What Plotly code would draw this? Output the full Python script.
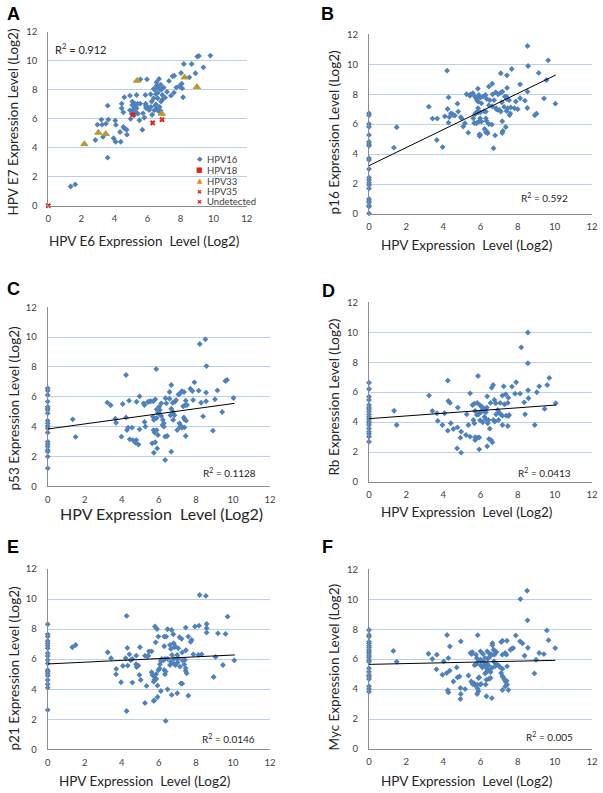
import plotly.graph_objects as go

W, H = 603, 793

# ---------------- DATA ----------------
# Panel A: HPV E6 (x) vs HPV E7 (y), by HPV type
A_hpv16 = [(1.35,1.33),(1.63,1.47),(3.59,3.32),(2.85,4.54),(3.31,4.75),(3.95,4.66),(4.07,4.42),(4.38,4.42),
    (4.76,4.91),(4.34,5.09),(4.74,5.25),(4.6,5.35),(4.54,5.44),(4.09,5.58),(2.97,5.6),(3.25,5.6),(3.49,5.67),
    (3.21,5.95),(3.63,5.95),(4.05,5.88),(4.98,6.0),(5.51,5.9),(5.81,6.08),(5.69,5.25),(3.59,6.91),(4.44,6.73),
    (4.54,6.45),(4.94,6.6),(5.12,6.6),(5.26,6.5),(5.04,6.35),(5.18,6.25),(5.42,6.36),(5.73,6.38),(5.91,6.75),
    (6.1,6.6),(6.41,6.59),(6.69,6.5),(6.28,6.28),(6.8,6.55),(4.6,7.49),(4.94,7.6),(4.44,7.05),(5.08,7.19),
    (5.24,7.05),(5.08,6.96),(5.2,6.82),(5.3,6.9),(5.34,6.73),(5.4,7.05),(5.56,7.05),(5.89,7.05),(6.01,6.82),
    (5.89,6.91),(6.25,7.19),(6.2,6.82),(6.47,6.91),(6.56,6.65),(6.73,6.82),(5.34,7.65),(5.87,7.65),(6.19,7.7),
    (6.51,7.72),(6.63,7.81),(6.37,7.42),(6.61,7.42),(6.9,7.65),(6.9,7.33),(7.06,7.47),(6.82,7.19),(6.51,7.0),
    (7.18,7.86),(7.42,7.6),(8.15,7.49),(7.6,7.81),(6.37,8.07),(6.45,8.02),(6.76,8.07),(6.84,8.02),(6.8,8.36),
    (6.55,8.29),(6.65,8.18),(6.98,8.16),(7.74,8.16),(8.1,8.11),(7.93,8.25),(8.07,8.43),(7.3,8.62),(6.55,8.53),
    (6.7,8.76),(5.97,8.73),(5.57,8.73),(7.52,8.94),(7.62,8.98),(8.03,9.17),(8.9,9.15),(8.53,8.87),(8.67,9.79),
    (8.2,9.79),(9.38,9.56),(9.01,10.3),(9.11,10.35),(9.8,10.37)]
A_hpv18 = [(5.12,6.3)]
A_hpv33 = [(5.37,8.64),(8.25,8.87),(8.99,8.2),(6.86,6.36),(3.03,5.05),(3.47,4.96),(2.18,4.26)]
A_hpv35 = [(6.31,5.72),(6.88,5.95)]
A_undetected = [(0.0,0.0)]

# Panels B-F: HPV expression level (x) vs gene expression level (y)
B_p16 = [(0,6.72),(0,6.59),(0,6.01),(0,5.83),(0,5.28),(0,4.83),(0,4.67),(0,4.56),(0,3.72),(0,3.61),(0,3.0),
    (0,2.43),(0,2.27),(0,2.09),(0,1.94),(0,1.71),(0,1.0),(0,0.87),(0,0.76),(0,0.56),(0,0.49),(0,0.04),
    (1.34,4.43),(1.49,5.79),(3.22,7.17),(3.42,6.37),(3.67,6.37),(3.65,4.94),(3.96,4.47),(4.2,9.57),
    (4.28,7.79),(4.23,7.01),(4.08,6.52),(4.32,6.48),(4.41,6.72),(4.48,6.66),(4.55,6.61),(4.62,6.57),(4.28,6.1),
    (4.76,7.37),(4.8,6.84),(4.94,6.46),(4.98,6.39),(5.07,5.84),(5.34,5.43),(5.16,6.06),(5.43,7.9),(5.25,8.0),
    (5.45,7.98),(5.59,8.06),(5.86,8.37),(5.7,7.84),(5.78,7.73),(5.8,7.62),(5.87,7.5),(5.99,7.77),(6.14,7.84),
    (6.27,7.95),(6.34,7.68),(5.91,7.95),(6.05,7.39),(5.87,7.06),(5.78,6.79),(5.73,6.7),(5.7,6.66),(5.89,6.77),
    (6.0,6.79),(6.2,6.86),(6.29,6.84),(5.61,6.39),(5.91,6.17),(5.98,6.39),(6.05,6.17),(6.29,6.39),(6.32,6.21),
    (6.22,5.68),(5.66,6.08),(5.78,6.06),(5.95,5.32),(5.95,5.21),(5.98,5.28),(6.29,5.46),(6.36,5.48),(6.45,6.01),
    (6.61,5.97),(6.79,5.25),(6.7,4.39),(6.63,7.19),(6.84,7.06),(6.91,6.95),(6.45,7.26),(6.5,7.6),(6.73,7.6),
    (6.63,8.7),(6.45,8.51),(6.65,7.99),(6.82,8.13),(6.95,7.99),(7.09,8.1),(7.18,8.17),(7.09,9.4),(7.42,9.26),
    (7.68,9.68),(7.43,8.42),(7.31,7.84),(7.4,7.84),(7.42,7.68),(7.54,7.6),(7.15,7.46),(6.84,7.02),(7.02,6.95),
    (7.09,6.84),(7.27,7.15),(7.47,7.06),(7.4,6.88),(7.17,6.19),(7.36,5.81),(7.17,5.41),(7.56,6.6),(7.6,6.71),
    (7.83,7.06),(7.9,7.51),(8.13,7.73),(8.13,8.66),(8.53,11.22),(8.56,9.88),(9.64,10.26),(9.13,9.42),(9.55,8.95),
    (9.42,7.72),(10.03,7.37),(8.92,6.59),(9.01,6.7),(8.53,8.17),(8.52,7.08),(8.39,7.57),(8.0,7.0),(7.63,7.12),
    (7.2,5.54),(6.38,5.39)]
C_p53 = [(0,6.57),(0,6.41),(0,6.12),(0,5.68),(0,5.34),(0,5.23),(0,5.12),(0,4.89),(0,4.4),(0,4.22),(0,4.04),
    (0,3.89),(0,3.6),(0,2.99),(0,2.82),(0,2.66),(0,2.44),(0,2.32),(0,1.99),(0,1.21),
    (1.35,4.49),(1.51,3.31),(3.22,5.61),(3.4,5.43),(3.65,4.53),(3.69,4.26),(4.05,5.52),(4.23,7.46),(4.39,5.74),
    (4.23,4.62),(4.34,3.93),(4.28,3.77),(4.55,3.93),(3.98,3.33),(4.43,3.15),(4.6,3.1),(4.78,3.1),(4.73,2.93),
    (4.96,3.82),(4.9,2.8),(4.8,5.67),(4.96,6.03),(5.23,4.31),(5.27,4.0),(5.68,4.67),(5.73,4.45),(5.88,4.58),
    (5.71,3.77),(5.88,3.77),(5.77,3.6),(5.95,3.44),(5.64,2.88),(5.8,2.95),(5.91,2.54),(5.73,2.25),(6.34,1.76),
    (6.34,3.33),(6.45,3.37),(6.67,2.32),(6.05,5.11),(5.95,4.93),(6.04,4.84),(6.13,4.71),(6.22,4.45),(6.27,4.22),
    (6.27,4.0),(6.2,4.11),(6.02,5.34),(5.88,5.16),(6.63,4.76),(6.77,4.98),(6.84,4.76),(6.77,4.45),(7.11,4.22),
    (7.2,4.04),(7.24,3.93),(7.13,3.97),(7.38,3.95),(7.47,4.4),(7.35,4.62),(7.38,4.49),(6.99,3.77),(7.45,3.37),
    (5.81,5.83),(5.7,5.7),(5.56,5.7),(5.47,5.68),(5.41,5.65),(5.18,5.56),(5.22,5.45),(6.13,5.56),(6.36,5.9),
    (6.4,5.56),(6.58,5.87),(6.67,5.2),(6.75,5.6),(6.86,5.67),(6.93,5.78),(7.31,5.36),(7.42,5.43),(7.52,5.45),
    (7.45,5.74),(7.85,5.78),(8.28,5.6),(8.55,5.7),(8.39,4.69),(8.92,3.73),(9.42,4.98),(10.03,5.92),(9.03,5.83),
    (9.16,6.43),(8.55,6.28),(8.15,6.41),(7.81,6.39),(7.7,6.54),(7.92,6.97),(7.24,6.37),(7.36,6.32),(7.06,6.16),
    (7.13,6.2),(6.58,6.32),(6.67,6.79),(5.86,7.86),(8.21,9.54),(8.51,9.85),(8.57,8.06),(9.68,7.13),(9.59,7.06)]
D_rb = [(0,6.63),(0,6.21),(0,5.7),(0,5.48),(0,5.14),(0,4.96),(0,4.88),(0,4.7),(0,4.52),(0,4.36),(0,4.21),
    (0,4.03),(0,3.96),(0,3.81),(0,3.58),(0,3.36),(0,3.21),(0,3.03),(0,2.69),
    (1.35,4.76),(1.49,3.81),(3.23,5.77),(3.41,4.74),(3.66,4.59),(4.06,4.59),(3.7,4.08),(4.27,5.41),(4.36,5.28),
    (4.78,4.97),(5.26,4.52),(5.44,5.92),(4.4,3.92),(3.95,3.81),(4.24,3.43),(4.54,3.54),(4.76,3.65),(4.96,3.36),
    (4.92,2.96),(5.22,3.14),(5.35,3.81),(5.44,3.03),(5.62,4.14),(5.67,3.92),(5.71,2.99),(5.82,2.96),(5.93,2.97),
    (5.71,2.8),(4.74,2.25),(4.96,1.96),(5.93,2.18),(6.36,2.38),(6.57,2.8),(6.64,2.65),(6.46,2.87),(6.5,3.56),
    (4.24,6.77),(5.87,7.08),(8.55,9.98),(8.19,8.99),(8.55,7.93),(5.71,4.74),(5.8,4.48),(5.89,4.52),(5.93,4.59),
    (6.02,4.65),(6.07,4.79),(6.16,4.74),(6.25,4.81),(6.29,4.65),(6.34,4.97),(5.67,5.23),(5.57,5.14),(5.82,5.28),
    (5.96,5.14),(6.07,5.03),(6.16,4.92),(5.98,4.12),(6.12,3.99),(6.21,4.34),(6.29,4.19),(6.39,3.92),(6.43,4.14),
    (6.36,5.72),(6.54,5.28),(6.75,5.48),(6.82,5.26),(6.93,4.81),(7.0,4.65),(6.84,4.52),(6.6,6.3),(6.68,6.48),
    (7.06,5.28),(7.29,5.19),(7.47,5.28),(7.18,5.77),(7.36,5.86),(7.25,6.39),(7.69,6.37),(7.92,6.66),(7.5,5.63),
    (7.86,5.9),(8.13,5.9),(8.35,5.32),(8.56,6.13),(8.58,5.59),(8.4,4.52),(8.92,3.81),(9.03,5.99),(9.16,6.39),
    (9.45,4.88),(9.59,6.48),(9.7,6.95),(10.05,5.26),(7.08,4.52),(7.18,4.43),(7.38,4.43),(7.5,4.41),(7.54,4.48),
    (6.97,4.14),(7.18,3.81),(7.47,3.74),(6.7,4.14),(6.77,4.03)]
E_p21 = [(0,8.32),(0,7.65),(0,7.5),(0,7.21),(0,7.05),(0,6.9),(0,6.72),(0,6.39),(0,6.21),(0,5.94),(0,5.72),
    (0,5.28),(0,5.17),(0,5.04),(0,4.9),(0,4.61),(0,4.33),(0,4.1),(0,2.62),
    (1.33,6.79),(1.51,6.94),(3.24,6.46),(3.42,6.06),(3.69,4.99),(3.7,5.35),(3.96,4.46),(4.26,8.88),(4.26,2.55),
    (8.2,10.27),(8.54,10.21),(9.71,8.83),(8.58,8.34),(8.58,8.06),(8.58,7.77),(7.95,8.17),(8.17,8.23),(7.45,8.1),
    (9.19,7.72),(9.6,7.68),(5.79,8.17),(5.9,8.01),(5.97,7.5),(6.47,7.99),(6.69,7.94),(6.29,7.5),(6.4,7.5),
    (6.78,7.66),(7.12,7.46),(7.23,7.35),(7.59,7.5),(7.77,7.28),(7.72,7.15),(6.8,7.06),(6.9,6.84),(7.05,6.72),
    (5.83,7.12),(6.29,6.86),(6.6,6.95),(6.65,6.68),(6.83,6.8),(7.46,6.59),(6.71,6.28),(6.99,6.28),(7.26,6.45),
    (4.98,6.79),(4.3,6.75),(4.41,6.32),(5.47,6.52),(5.61,6.52),(4.78,6.23),(5.25,6.23),(5.39,6.19),(5.43,6.23),
    (4.21,6.06),(4.48,5.93),(4.57,6.01),(4.06,5.55),(4.32,5.57),(4.77,5.66),(4.8,5.48),(4.89,5.57),(4.57,4.44),
    (4.95,4.95),(5.02,4.62),(5.34,4.22),(5.61,5.13),(5.65,4.95),(5.76,4.82),(5.85,5.0),(5.72,4.5),(5.75,4.62),
    (5.86,4.68),(5.97,5.26),(6.04,5.39),(6.11,5.88),(6.06,5.66),(6.15,6.01),(6.24,5.93),(6.33,6.01),(6.29,5.28),
    (6.33,4.99),(6.37,5.17),(5.93,4.24),(6.11,3.88),(6.47,3.99),(6.69,3.62),(5.72,3.22),(5.25,3.08),(5.75,3.26),
    (5.93,3.48),(6.37,1.89),(6.99,3.73),(7.19,4.39),(7.26,4.37),(7.59,3.57),(7.45,5.21),(7.5,5.06),(7.37,5.65),
    (7.45,5.39),(7.27,5.92),(7.41,5.95),(6.8,5.7),(6.9,5.61),(7.01,5.77),(7.14,5.5),(6.82,6.02),(6.98,6.02),
    (7.05,6.06),(6.47,6.02),(6.6,5.61),(6.65,5.83),(8.96,4.81),(9.46,5.61),(10.07,5.92),(9.06,6.15),(8.31,6.32),
    (7.86,6.32),(8.13,6.28)]
F_myc = [(0,7.95),(0,7.61),(0,7.5),(0,7.17),(0,7.06),(0,6.9),(0,6.77),(0,6.61),(0,6.5),(0,6.39),(0,6.23),
    (0,6.12),(0,5.94),(0,5.83),(0,5.39),(0,5.16),(0,4.94),(0,4.83),(0,4.67),(0,4.19),(0,4.01),(0,3.83),
    (1.31,6.55),(1.49,5.83),(8.51,10.57),(8.15,10.01),(8.53,8.59),(9.57,7.92),(9.66,7.27),(10.02,6.74),
    (9.16,6.41),(9.41,6.34),(8.99,5.96),(8.9,5.05),(8.37,6.23),(8.55,6.76),(8.13,7.19),(8.26,7.05),(7.9,7.58),
    (7.69,6.7),(7.76,6.74),(7.61,6.63),(7.42,7.23),(7.18,7.23),(7.11,7.14),(7.33,6.41),(7.4,6.3),(7.18,6.3),
    (6.64,7.07),(6.64,6.92),(6.71,6.63),(6.79,6.52),(6.86,6.47),(6.75,6.3),(6.47,6.39),(6.57,6.34),(6.54,6.21),
    (6.36,6.52),(6.39,6.03),(6.25,6.07),(6.18,5.8),(6.0,6.52),(6.14,6.34),(5.85,7.6),(5.76,6.3),(5.56,6.47),
    (5.46,6.41),(5.53,6.34),(5.8,6.07),(5.89,5.9),(6.0,5.96),(6.07,5.9),(4.94,7.19),(4.35,6.85),(4.2,7.61),
    (4.27,6.07),(4.02,5.85),(3.65,6.3),(3.41,6.01),(3.2,6.36),(3.63,5.32),(3.95,4.96),(4.18,5.07),(4.34,5.23),
    (4.72,5.45),(4.54,4.51),(4.76,4.78),(4.87,4.84),(4.92,4.07),(4.94,3.67),(5.17,4.0),(4.24,3.93),(4.27,3.78),
    (4.92,3.34),(5.35,4.91),(5.68,5.6),(5.78,5.67),(5.5,4.51),(5.58,4.34),(5.64,4.4),(5.71,4.25),(5.82,4.3),
    (5.98,4.3),(6.03,4.34),(5.89,4.74),(5.93,4.78),(5.85,4.02),(5.89,3.85),(5.82,3.67),(6.28,4.3),(6.32,4.62),
    (6.46,4.69),(6.54,4.74),(6.25,5.05),(6.34,5.18),(6.39,5.29),(6.46,5.23),(6.54,5.14),(6.61,5.41),(6.0,5.6),
    (6.1,5.45),(6.21,5.6),(6.36,5.67),(6.43,5.58),(6.29,5.45),(6.79,5.52),(6.97,5.58),(7.06,5.45),(7.18,5.36),
    (7.43,5.52),(6.72,5.85),(6.79,5.74),(6.86,5.63),(7.11,5.07),(7.22,4.78),(7.18,4.87),(7.29,4.62),(7.4,4.56),
    (7.36,4.47),(7.43,4.29),(7.33,4.18),(7.18,3.94),(7.5,3.94),(6.32,3.52),(6.61,3.4)]

# Linear trend lines (x start/end, y start/end) and R^2 labels
trend_x = {"B": [0, 10.05], "C": [0, 10.08], "D": [0, 10.06], "E": [0, 10.1], "F": [0, 10.02]}
trend_y = {"B": [3.23, 9.28], "C": [3.84, 5.56], "D": [4.23, 5.14], "E": [5.68, 6.28], "F": [5.65, 5.92]}
r2_text = {"A": "0.912", "B": "0.592", "C": "0.1128", "D": "0.0413", "E": "0.0146", "F": "0.005"}

y_titles = {"A": "HPV E7 Expression Level (Log2)", "B": "p16 Expression Level (Log2)",
            "C": "p53 Expression Level (Log2)", "D": "Rb Expression Level (Log2)",
            "E": "p21 Expression Level (Log2)", "F": "Myc Expression Level (Log2)"}
x_titles = {"A": "HPV E6 Expression\u00a0 Level (Log2)"}
for k in "BCDEF":
    x_titles[k] = "HPV Expression\u00a0 Level (Log2)"
legend_labels = ["HPV16", "HPV18", "HPV33", "HPV35", "Undetected"]

# ---------------- LAYOUT (window pixel positions) ----------------
FONT = "Lato"
BLUE = "#4F81BD"
RED = "#E2231A"
GRID = "#BCD0EA"
AXL = "#8C8C8C"

# panel: (axis suffix, x0, x1, ytop, ybottom)
geom = {
    "A": ("", 48.3, 246.7, 32.0, 205.7),
    "B": ("2", 369.0, 592.0, 34.3, 214.0),
    "C": ("3", 47.7, 270.0, 307.3, 486.3),
    "D": ("4", 369.0, 592.0, 302.3, 482.0),
    "E": ("5", 47.7, 270.0, 569.0, 749.3),
    "F": ("6", 369.0, 592.0, 569.3, 749.0),
}
letter_pos = {"A": (14, 14.5), "B": (327.5, 14.5), "C": (13.5, 289), "D": (328, 291), "E": (13, 546.5), "F": (327, 546.5)}
xt_pos = {"A": (144, 241, 13.5), "B": (466, 245.5, 13.5), "C": (161, 513, 16),
          "D": (466, 511.5, 13.5), "E": (144.5, 781, 13.5), "F": (466, 781, 13.5)}
yt_pos = {"A": (12.5, 122), "B": (333.5, 133), "C": (13.5, 409), "D": (333.5, 397), "E": (13.5, 669), "F": (333.5, 667)}
r2_pos = {"A": (81, 48.5, 11), "B": (544, 197, 10), "C": (229.5, 473, 10), "D": (544.7, 472, 10),
          "E": (228, 738.3, 10), "F": (549, 736.7, 10)}


def fx(p):
    return p / W


def fy(p):
    return 1 - p / H


fig = go.Figure()
layout = dict(width=W, height=H, margin=dict(l=0, r=0, t=0, b=0, autoexpand=False),
              paper_bgcolor="white", plot_bgcolor="white", showlegend=False,
              font=dict(family=FONT, color="#262626"))
annotations = []

for key, (suf, x0, x1, yt, yb) in geom.items():
    xa = "xaxis" + suf
    ya = "yaxis" + suf
    layout[xa] = dict(domain=[fx(x0), fx(x1)], range=[0, 12], dtick=2, anchor="y" + suf,
                      showgrid=False, zeroline=False, showline=True, linecolor=AXL, linewidth=1,
                      ticks="outside", ticklen=4, tickcolor="rgba(0,0,0,0)", ticklabeloverflow="allow",
                      tickfont=dict(size=9.5, color="#404040", family=FONT), fixedrange=True)
    layout[ya] = dict(domain=[fy(yb), fy(yt)], range=[0, 12], dtick=2, anchor="x" + suf,
                      showgrid=True, gridcolor=GRID, gridwidth=1, zeroline=False, showline=True,
                      linecolor=AXL, linewidth=1, ticks="outside", ticklen=8, tickcolor="rgba(0,0,0,0)",
                      ticklabeloverflow="allow",
                      tickfont=dict(size=9.5, color="#404040", family=FONT), fixedrange=True)
    lx, ly = letter_pos[key]
    annotations.append(dict(text="<b>%s</b>" % key, x=fx(lx), y=fy(ly), xref="paper", yref="paper",
                            showarrow=False, xanchor="center", yanchor="middle",
                            font=dict(family="Liberation Sans", size=18, color="black")))
    tx, ty, ts = xt_pos[key]
    annotations.append(dict(text=x_titles[key], x=fx(tx), y=fy(ty), xref="paper", yref="paper",
                            showarrow=False, xanchor="center", yanchor="middle",
                            font=dict(family=FONT, size=ts, color="#262626")))
    yx, yy = yt_pos[key]
    annotations.append(dict(text=y_titles[key], x=fx(yx), y=fy(yy), xref="paper", yref="paper",
                            showarrow=False, xanchor="center", yanchor="middle", textangle=-90,
                            font=dict(family=FONT, size=13.5, color="#262626")))
    rx, ry, rs = r2_pos[key]
    annotations.append(dict(text="R<sup>2</sup> = " + r2_text[key], x=fx(rx), y=fy(ry), xref="paper",
                            yref="paper", showarrow=False, xanchor="center", yanchor="middle",
                            font=dict(family=FONT, size=rs, color="#262626")))


def unzip(pairs):
    return [p[0] for p in pairs], [p[1] for p in pairs]


def add_pts(pairs, suf, symbol, color, size, line=None):
    xs, ys = unzip(pairs)
    fig.add_trace(go.Scatter(x=xs, y=ys, mode="markers", xaxis="x" + suf, yaxis="y" + suf,
                             cliponaxis=False,
                             marker=dict(symbol=symbol, color=color, size=size,
                                         line=line or dict(width=0))))


# Panel A
add_pts(A_hpv16, "", "diamond", BLUE, 4.5)
add_pts(A_hpv18, "", "square", RED, 4.5)
add_pts(A_hpv33, "", "triangle-up", "#E8841C", 6.5, dict(width=1, color="#8DB048"))
add_pts(A_hpv35, "", "x", RED, 5)
add_pts(A_undetected, "", "x", RED, 5)

# Panels B-F
for key, data in [("B", B_p16), ("C", C_p53), ("D", D_rb), ("E", E_p21), ("F", F_myc)]:
    suf = geom[key][0]
    add_pts(data, suf, "diamond", BLUE, 4.5)
    fig.add_trace(go.Scatter(x=trend_x[key], y=trend_y[key], mode="lines", xaxis="x" + suf,
                             yaxis="y" + suf, line=dict(color="black", width=1), hoverinfo="skip"))

# Legend of panel A (built as text, compact like the original)
leg_syms = [("\u25C6", BLUE, 7), ("\u25A0", RED, 7), ("\u25B2", "#E8841C", 7), ("\u2716", RED, 6),
            ("\u2716", RED, 6)]
leg_rows = [159.3, 170.0, 181.0, 191.7, 201.7]
for (sym, col, ss), lab, ry in zip(leg_syms, legend_labels, leg_rows):
    annotations.append(dict(text=sym, x=fx(199.5), y=fy(ry), xref="paper", yref="paper", showarrow=False,
                            xanchor="center", yanchor="middle",
                            font=dict(family="DejaVu Sans", size=ss, color=col)))
    annotations.append(dict(text=lab, x=fx(204.5), y=fy(ry), xref="paper", yref="paper", showarrow=False,
                            xanchor="left", yanchor="middle",
                            font=dict(family=FONT, size=9.5, color="#404040")))

layout["annotations"] = annotations
fig.update_layout(**layout)
# place the figure at the window's top-left corner (no default page margin), no mode bar
fig.write_html("out.html", config={"displayModeBar": False},
               post_script="document.body.style.margin='0';")
